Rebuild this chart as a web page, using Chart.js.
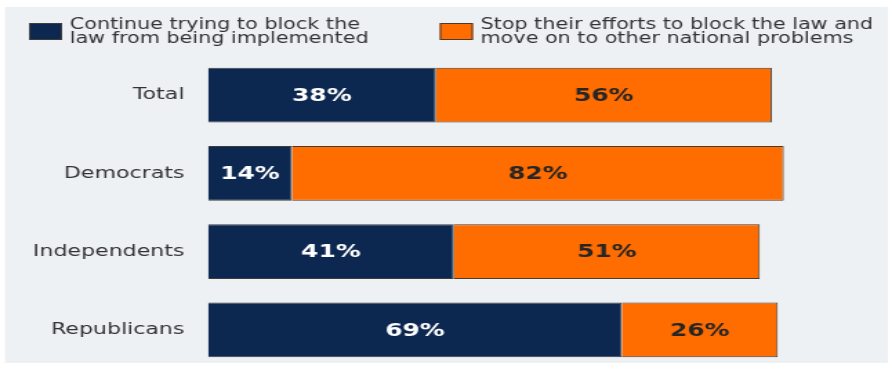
<!DOCTYPE html>
<html>
<head>
<meta charset="utf-8">
<script src="https://cdn.jsdelivr.net/npm/chart.js@4.4.0/dist/chart.umd.min.js"></script>
<style>
  html, body { margin: 0; padding: 0; background: #ffffff; }
</style>
</head>
<body>
<!-- the source picture is stretched sideways, so the canvas is drawn narrow and shown wide -->
<canvas id="chart_blockTheLaw" width="646" height="369" style="display:block;width:892px;height:369px"></canvas>
<script>
var categories = ['Total', 'Democrats', 'Independents', 'Republicans'];
var continueBlocking = [38, 14, 41, 69];
var stopEfforts = [56, 82, 51, 26];
var legendContinue = ['Continue trying to block the', 'law from being implemented'];
var legendStop = ['Stop their efforts to block the law and', 'move on to other national problems'];

var FONT = '"DejaVu Sans", Verdana, sans-serif';
var NAVY = '#0c2850';
var ORANGE = '#ff6c00';

var chart_blockTheLaw = new Chart(document.getElementById('chart_blockTheLaw'), {
    type: 'bar',
    data: {
        labels: categories,
        datasets: [
            {
                label: legendContinue.join(' '),
                legendLines: legendContinue,
                data: continueBlocking,
                backgroundColor: NAVY,
                borderColor: '#3c3c3c',
                borderWidth: 1,
                valueColor: '#ffffff',
                legendX: 21
            },
            {
                label: legendStop.join(' '),
                legendLines: legendStop,
                data: stopEfforts,
                backgroundColor: ORANGE,
                borderColor: '#4a3a30',
                borderWidth: 1,
                valueColor: '#262626',
                legendX: 318.5
            }
        ]
    },
    options: {
        indexAxis: 'y',
        animation: false,
        responsive: false,
        barPercentage: 0.7,
        categoryPercentage: 1,
        layout: {
            padding: { top: 56, right: 61, bottom: 0, left: 0 }
        },
        plugins: {
            legend: { display: false },
            tooltip: { enabled: false }
        },
        scales: {
            x: {
                stacked: true,
                min: 0,
                max: 100,
                display: false
            },
            y: {
                stacked: true,
                grid: { display: false, drawTicks: false },
                border: { display: false },
                ticks: {
                    color: '#333333',
                    padding: 17,
                    font: { family: FONT, size: 16 }
                },
                afterFit: function(scale) {
                    scale.width = 150.6;
                    // tick padding should not eat into the plot height
                    scale.paddingTop = 0;
                    scale.paddingBottom = 0;
                }
            }
        }
    },
    plugins: [{
        id: 'panelAndLabels',
        beforeDraw: function(chart) {
            var ctx = chart.ctx;
            ctx.save();
            ctx.fillStyle = '#ffffff';
            ctx.fillRect(0, 0, chart.width, chart.height);
            ctx.fillStyle = '#eef1f4';
            ctx.fillRect(3.6, 7, 639.5, 356);
            ctx.restore();
        },
        afterDatasetsDraw: function(chart) {
            var ctx = chart.ctx;
            ctx.save();
            chart.data.datasets.forEach(function(ds, i) {
                // legend key and two-line text
                ctx.fillStyle = ds.backgroundColor;
                ctx.strokeStyle = ds.borderColor;
                ctx.lineWidth = 1;
                ctx.fillRect(ds.legendX, 23, 24, 17);
                ctx.strokeRect(ds.legendX + 0.5, 23.5, 23, 16);
                ctx.fillStyle = '#333333';
                ctx.font = '15px ' + FONT;
                ctx.textAlign = 'left';
                ctx.textBaseline = 'alphabetic';
                ds.legendLines.forEach(function(line, k) {
                    ctx.fillText(line, ds.legendX + 29.5, 29 + k * 14);
                });

                // value in the middle of each segment
                ctx.font = 'bold 18px ' + FONT;
                ctx.textAlign = 'center';
                ctx.textBaseline = 'middle';
                ctx.fillStyle = ds.valueColor;
                chart.getDatasetMeta(i).data.forEach(function(bar, j) {
                    var mid = (bar.x + bar.base) / 2;
                    ctx.fillText(ds.data[j] + '%', mid, bar.y + 1);
                });
            });
            ctx.restore();
        }
    }]
});
</script>
</body>
</html>
